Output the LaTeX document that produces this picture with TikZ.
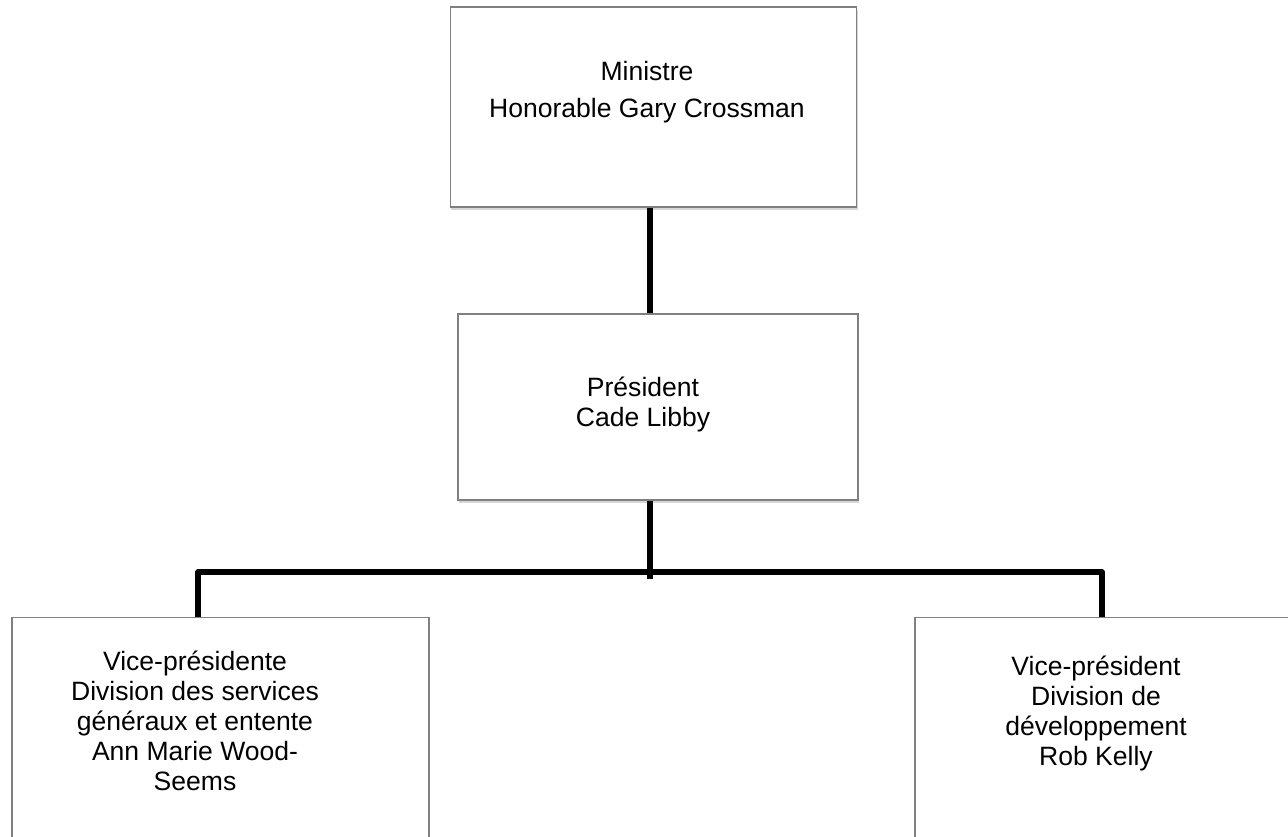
\documentclass[tikz,border=0pt]{standalone}
\usepackage{fontspec}
\setmainfont{Liberation Sans}
\usetikzlibrary{positioning,shadows}
\tikzset{
    post/.style={draw=gray, fill=white, line width=0.9pt,
        drop shadow={shadow xshift=0.9pt, shadow yshift=-2pt, fill=black!35, opacity=0.45}},
    posttext/.style={align=center, inner sep=0pt, font=\fontsize{19.9}{22.5}\selectfont},
    link/.style={line width=4.3pt, black, line join=round}
}

\begin{document}
\begin{tikzpicture}[x=0.75pt, y=-0.75pt]
    \useasboundingbox (0,0) rectangle (1288,836);
    % boxes
    \node[post, minimum width=305pt, minimum height=150pt] (ministre) at (653.5,107) {};
    \node[post, minimum width=300pt, minimum height=139.5pt] (president) at (658,407) {};
    \node[post, anchor=north, minimum width=312.75pt, minimum height=240pt] (vpservices) at (220.5,617) {};
    \node[post, anchor=north, minimum width=280.5pt, minimum height=240pt] (vpdev) at (1102,617) {};
    % texts
    \node[posttext, font=\fontsize{19.9}{27.75}\selectfont] (ministretxt) at (647,92) {Ministre\\Honorable Gary Crossman};
    \node[posttext] (presidenttxt) at (643,404) {Président\\Cade Libby};
    \node[posttext] (vpservicestxt) at (195,721) {Vice-présidente\\Division des services\\généraux et entente\\Ann Marie Wood-\\Seems};
    \node[posttext] (vpdevtxt) at (1096,713) {Vice-président\\Division de\\développement\\Rob Kelly};
    % connectors
    \coordinate (hub) at (650,572);
    \coordinate (ldrop) at (198,572);
    \coordinate (rdrop) at (1102,572);
    \draw[link] (hub |- ministre.south) -- (hub |- president.north);
    \draw[link] (hub |- president.south) -- ([yshift=-5pt]hub);
    \draw[link] (ldrop |- vpservices.north) -- (ldrop) -- (rdrop) -- (rdrop |- vpdev.north);
\end{tikzpicture}
\end{document}
